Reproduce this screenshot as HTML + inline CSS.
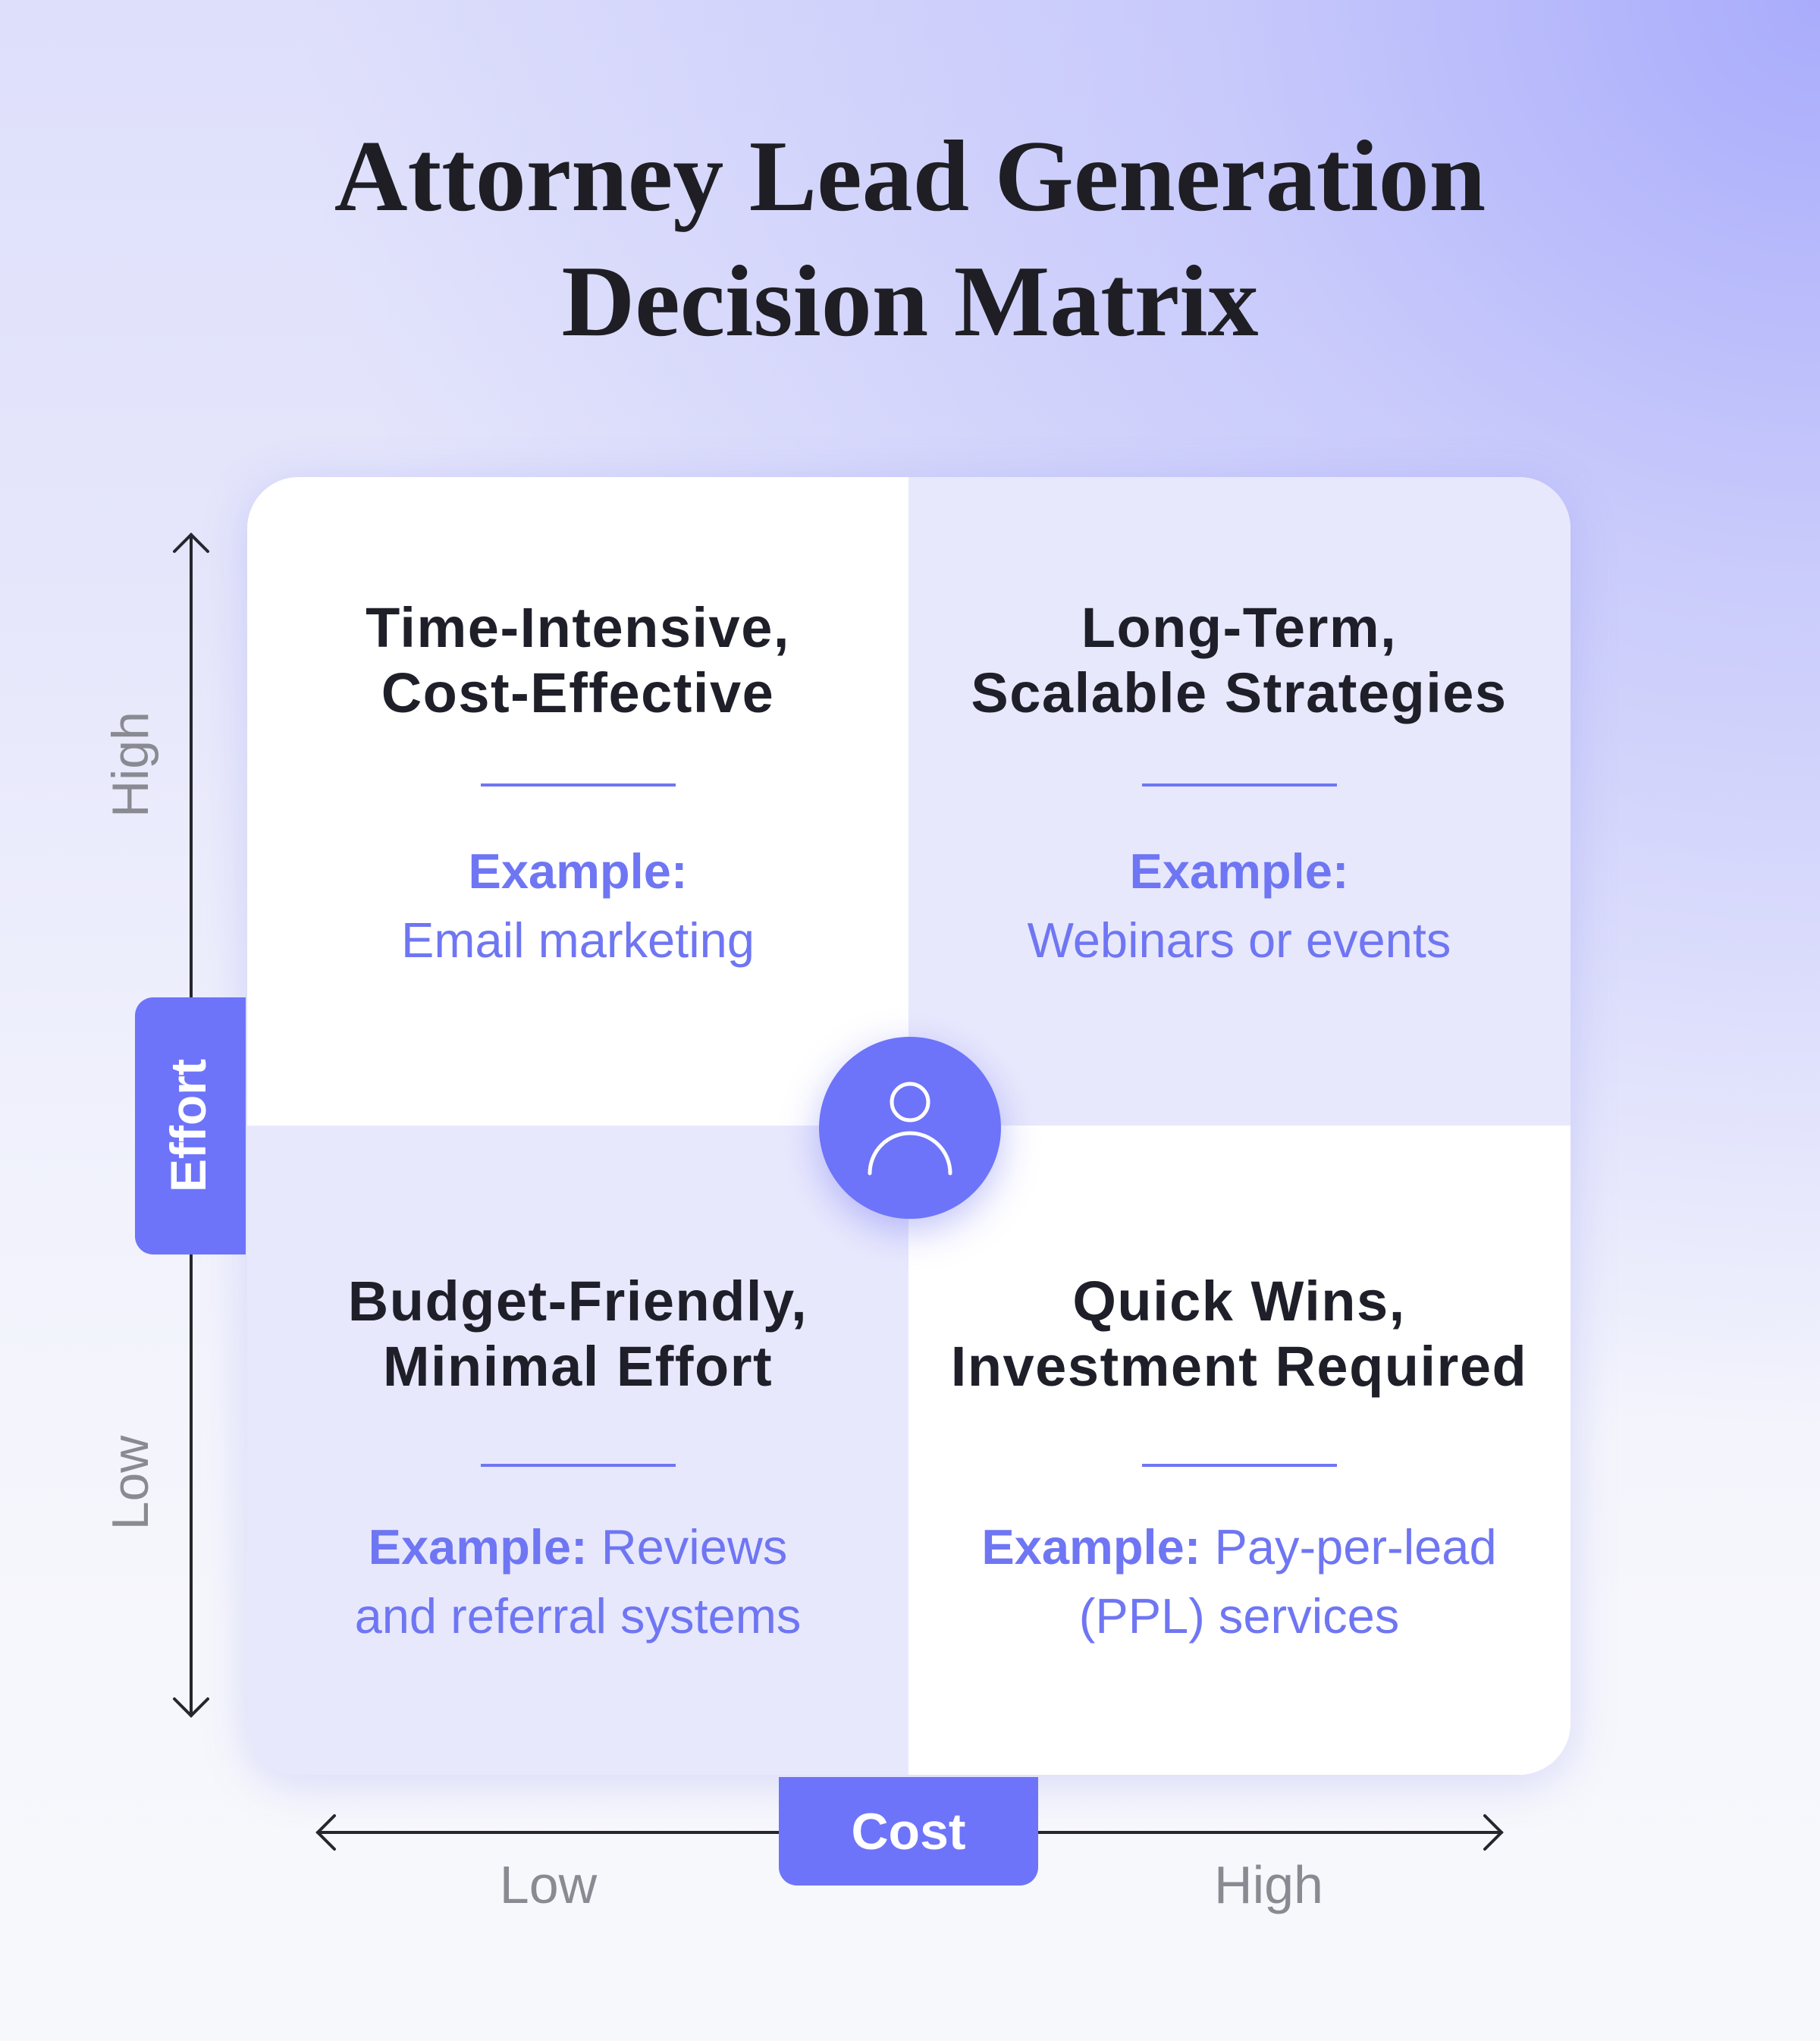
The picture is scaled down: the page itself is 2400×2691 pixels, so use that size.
<!DOCTYPE html>
<html><head><meta charset="utf-8"><style>
*{margin:0;padding:0;box-sizing:border-box}
body{width:2400px;height:2691px;position:relative;overflow:hidden;font-family:"Liberation Sans",sans-serif;
background:radial-gradient(ellipse 2000px 1900px at 100% 0%,rgba(169,172,251,1) 0%,rgba(190,192,251,0.7) 40%,rgba(220,221,251,0) 100%),
linear-gradient(180deg,#dedffb 0%,#e6e7fb 30%,#f0f1fc 55%,#f6f7fc 80%,#f7f8fc 100%);}
.t{position:absolute;white-space:nowrap;text-align:center}
.title{left:0;width:2400px;font-family:"Liberation Serif",serif;font-weight:bold;font-size:134px;color:#1e1e24;}
.card{position:absolute;left:326px;top:629px;width:1745px;height:1711px;border-radius:68px;overflow:hidden;background:#fff;box-shadow:0 10px 60px rgba(120,125,240,0.25)}
.q{position:absolute;width:872px;height:855px}
.h{font-weight:bold;font-size:74px;letter-spacing:1.5px;color:#1f1f2a;line-height:86px;width:872px;left:0}
.e{font-size:65px;color:#6f76f3;line-height:91px;width:872px;left:0}
.e b{font-weight:bold}
.div{position:absolute;left:308px;width:257px;height:4px;background:#6f76f3}
</style></head><body>
<div class="t title" style="top:150px;line-height:165px">Attorney Lead Generation<br>Decision Matrix</div>

<div class="card">
 <div class="q" style="left:0;top:0;background:#fff">
  <div class="t h" style="top:156px">Time-Intensive,<br>Cost-Effective</div>
  <div class="div" style="top:404px"></div>
  <div class="t e" style="top:474px"><b>Example:</b><br>Email marketing</div>
 </div>
 <div class="q" style="left:872px;top:0;width:873px;background:#e8e8fd">
  <div class="t h" style="top:156px">Long-Term,<br>Scalable Strategies</div>
  <div class="div" style="top:404px"></div>
  <div class="t e" style="top:474px"><b>Example:</b><br>Webinars or events</div>
 </div>
 <div class="q" style="left:0;top:855px;height:856px;background:#e8e8fd">
  <div class="t h" style="top:189px">Budget-Friendly,<br>Minimal Effort</div>
  <div class="div" style="top:446px"></div>
  <div class="t e" style="top:510px"><b>Example:</b> Reviews<br>and referral systems</div>
 </div>
 <div class="q" style="left:872px;top:855px;width:873px;height:856px;background:#fff">
  <div class="t h" style="top:189px">Quick Wins,<br>Investment Required</div>
  <div class="div" style="top:446px"></div>
  <div class="t e" style="top:510px"><b>Example:</b> Pay-per-lead<br>(PPL) services</div>
 </div>
</div>

<div style="position:absolute;left:1080px;top:1367px;width:240px;height:240px;border-radius:50%;background:#6d74f9;box-shadow:0 15px 50px rgba(100,105,240,0.4)"></div>
<svg style="position:absolute;left:0;top:0" width="2400" height="2691">
 <circle cx="1200" cy="1453" r="24" fill="none" stroke="#fff" stroke-width="5"/>
 <path d="M1147 1547 A53 53 0 0 1 1253 1547" fill="none" stroke="#fff" stroke-width="5" stroke-linecap="round"/>
 <g stroke="#26262e" stroke-width="4" fill="none" stroke-linecap="round">
  <line x1="252" y1="705" x2="252" y2="2262"/>
  <polyline points="230,727 252,705 274,727"/>
  <polyline points="230,2240 252,2262 274,2240"/>
  <line x1="419" y1="2416" x2="1980" y2="2416"/>
  <polyline points="441,2394 419,2416 441,2438"/>
  <polyline points="1958,2394 1980,2416 1958,2438"/>
 </g>
</svg>
<div style="position:absolute;left:178px;top:1315px;width:146px;height:339px;background:#6d74f9;border-radius:24px 0 0 24px"></div>
<div class="t" style="left:248px;top:1484px;transform:translate(-50%,-50%) rotate(-90deg);font-weight:bold;font-size:66px;color:#fff">Effort</div>
<div class="t" style="left:172px;top:1008px;transform:translate(-50%,-50%) rotate(-90deg);font-size:68px;color:#8a8a92">High</div>
<div class="t" style="left:172px;top:1955px;transform:translate(-50%,-50%) rotate(-90deg);font-size:68px;color:#8a8a92">Low</div>
<div style="position:absolute;left:1027px;top:2343px;width:342px;height:143px;background:#6d74f9;border-radius:0 0 24px 24px"></div>
<div class="t" style="left:1027px;width:342px;top:2375px;font-weight:bold;font-size:68px;color:#fff;line-height:80px">Cost</div>
<div class="t" style="left:523px;width:400px;top:2445px;font-size:70px;color:#8a8a92;line-height:80px">Low</div>
<div class="t" style="left:1473px;width:400px;top:2445px;font-size:70px;color:#8a8a92;line-height:80px">High</div>
</body></html>
